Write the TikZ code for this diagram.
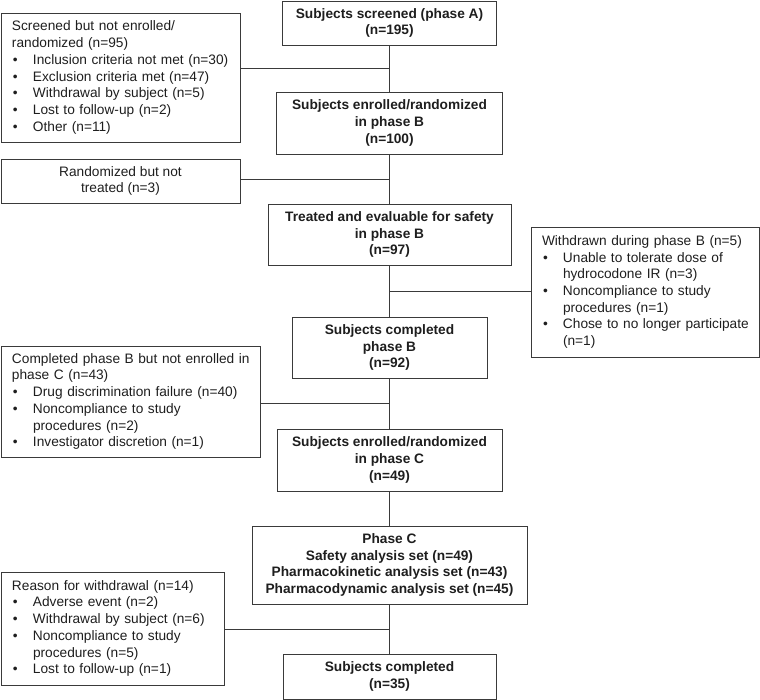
\documentclass[tikz,border=0pt]{standalone}
\usepackage{fontspec}
\setmainfont{Liberation Sans}
\usepackage{xcolor}
\usetikzlibrary{positioning, calc}

\definecolor{boxline}{HTML}{3A3A3A}
\definecolor{boxtext}{HTML}{1E1E1E}

% one line, bullet line and its continuation
\newcommand{\hd}[1]{\mbox{#1}}
\newcommand{\bul}[1]{\mbox{\makebox[21pt][l]{\hspace{1pt}\textbullet}#1}}
\newcommand{\cont}[1]{\mbox{\hspace*{21pt}#1}}

\begin{document}
\begin{tikzpicture}[x=1pt, y=-1pt,
        box/.style={draw=boxline, line width=0.9pt, text=boxtext, inner sep=0pt,
            font=\fontsize{13.7}{16.7}\selectfont},
        mainbox/.style={box, align=center, font=\fontsize{13.7}{16.7}\selectfont\bfseries},
        sidebox/.style={box, align=left, inner xsep=11pt},
        link/.style={draw=boxline, line width=0.9pt}]

        \useasboundingbox (0,0) rectangle (760,700);

        % main flow
        \node[mainbox, minimum width=214, minimum height=44] (scrA) at (389.5,23) {Subjects screened (phase A)\\(n=195)};
        \node[mainbox, minimum width=226, minimum height=62] (enrB) at (389.5,123) {Subjects enrolled/randomized\\in phase B\\(n=100)};
        \node[mainbox, minimum width=243, minimum height=61] (trtB) at (389.5,234.5) {Treated and evaluable for safety\\in phase B\\(n=97)};
        \node[mainbox, minimum width=195, minimum height=61] (cmpB) at (389.5,347.5) {Subjects completed\\phase B\\(n=92)};
        \node[mainbox, minimum width=225, minimum height=62] (enrC) at (389.5,460) {Subjects enrolled/randomized\\in phase C\\(n=49)};
        \node[mainbox, minimum width=275, minimum height=78] (phC) at (389.5,565) {Phase C\\Safety analysis set (n=49)\\Pharmacokinetic analysis set (n=43)\\Pharmacodynamic analysis set (n=45)};
        \node[mainbox, minimum width=213, minimum height=45] (cmpC) at (389.5,676.5) {Subjects completed\\(n=35)};

        % side boxes
        \node[sidebox, text width=217, minimum height=129] (notEnr) at (120.5,77.5) {\hd{Screened but not enrolled/}\\\hd{randomized (n=95)}\\\bul{Inclusion criteria not met (n=30)}\\\bul{Exclusion criteria met (n=47)}\\\bul{Withdrawal by subject (n=5)}\\\bul{Lost to follow-up (n=2)}\\\bul{Other (n=11)}};
        \node[box, align=center, minimum width=239, minimum height=44] (notTrt) at (120.5,181) {Randomized but not\\treated (n=3)};
        \node[sidebox, text width=206, minimum height=130] (wdB) at (645,292) {\hd{Withdrawn during phase B (n=5)}\\\bul{Unable to tolerate dose of}\\\cont{hydrocodone IR (n=3)}\\\bul{Noncompliance to study}\\\cont{procedures (n=1)}\\\bul{Chose to no longer participate}\\\cont{(n=1)}};
        \node[sidebox, text width=237, minimum height=111] (notC) at (130.5,401.5) {\hd{Completed phase B but not enrolled in}\\\hd{phase C (n=43)}\\\bul{Drug discrimination failure (n=40)}\\\bul{Noncompliance to study}\\\cont{procedures (n=2)}\\\bul{Investigator discretion (n=1)}};
        \node[sidebox, text width=201, minimum height=113] (wdC) at (112.5,628.5) {\hd{Reason for withdrawal (n=14)}\\\bul{Adverse event (n=2)}\\\bul{Withdrawal by subject (n=6)}\\\bul{Noncompliance to study}\\\cont{procedures (n=5)}\\\bul{Lost to follow-up (n=1)}};

        % connectors
        \foreach \a/\b in {scrA/enrB, enrB/trtB, trtB/cmpB, cmpB/enrC, enrC/phC, phC/cmpC}
            \draw[link] (\a) -- (\b);

        \coordinate (j1) at ($(scrA.south)!0.5!(enrB.north)$);
        \coordinate (j2) at ($(enrB.south)!0.5!(trtB.north)$);
        \coordinate (j3) at ($(trtB.south)!0.5!(cmpB.north)$);
        \coordinate (j4) at ($(cmpB.south)!0.5!(enrC.north)$);
        \coordinate (j5) at ($(phC.south)!0.5!(cmpC.north)$);

        \draw[link] (notEnr.east |- j1) -- (j1);
        \draw[link] (notTrt.east |- j2) -- (j2);
        \draw[link] (j3) -- (wdB.west |- j3);
        \draw[link] (notC.east |- j4) -- (j4);
        \draw[link] (wdC.east |- j5) -- (j5);
\end{tikzpicture}
\end{document}
